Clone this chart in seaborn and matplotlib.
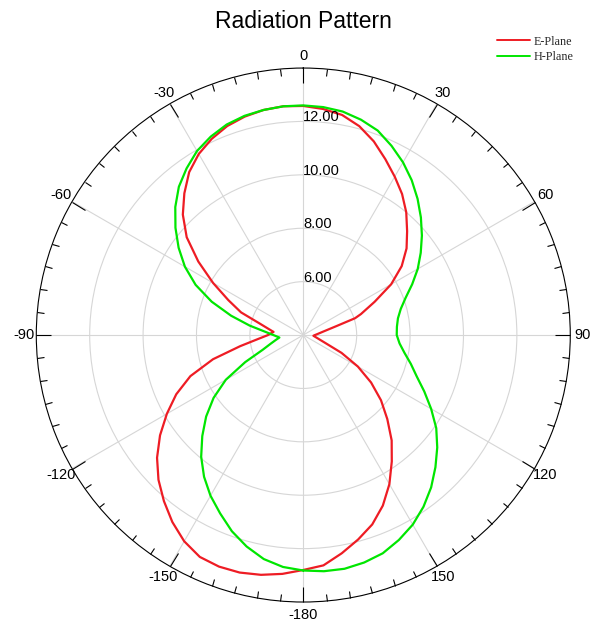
import numpy as np
import pandas as pd
import matplotlib
matplotlib.use("Agg")
import matplotlib.pyplot as plt
import seaborn as sns

# E-plane gain pattern (angle in degrees, gain)
e_angles = [-180, -175, -170, -165, -160, -155, -150, -145, -140, -135, -130, -125,
            -120, -115, -110, -105, -100, -95, -90, -84, -80, -75, -70, -65, -60,
            -55, -50, -45, -40, -35, -30, -25, -20, -15, -10, -5, 0, 5, 10, 15, 20,
            25, 30, 35, 40, 45, 50, 55, 60, 65, 70, 72, 75, 80, 85, 90, 94, 100, 105,
            110, 115, 120, 125, 130, 135, 140, 145, 150, 155, 160, 165, 170, 175, 180]
e_gain = [12.80, 12.98, 13.12, 13.21, 13.23, 13.17, 12.92, 12.55, 12.12, 11.67, 11.15, 10.55,
          9.90, 9.25, 8.50, 7.50, 6.40, 5.70, 5.32, 5.12, 5.32, 5.71, 6.48, 7.10, 7.90,
          8.80, 9.70, 10.38, 10.93, 11.45, 11.83, 12.11, 12.33, 12.47, 12.56, 12.60, 12.58, 12.50, 12.37, 12.10, 11.72,
          11.27, 10.85, 10.45, 10.00, 9.50, 9.05, 8.50, 7.80, 6.95, 6.30, 6.04, 5.27, 4.77, 4.56, 4.44, 4.38, 4.48, 4.62,
          4.89, 5.58, 6.36, 7.10, 7.80, 8.45, 9.15, 9.78, 10.45, 11.05, 11.55, 11.93, 12.30, 12.66, 12.80]

# H-plane gain pattern (angle in degrees, gain)
h_angles = [-180, -175, -170, -165, -160, -155, -150, -145, -140, -135, -130, -125,
            -120, -115, -110, -105, -100, -96, -90, -85, -80, -75, -70, -65, -60,
            -55, -50, -45, -40, -35, -30, -25, -20, -15, -10, -5, 0, 5, 10, 15, 20,
            25, 30, 35, 40, 45, 50, 55, 60, 65, 70, 75, 80, 85, 90, 95, 100, 105,
            110, 115, 120, 125, 130, 135, 140, 145, 150, 155, 160, 165, 170, 175, 180]
h_gain = [12.82, 12.72, 12.52, 12.20, 11.82, 11.37, 10.95, 10.48, 9.95, 9.35, 8.75, 8.10,
          7.35, 6.40, 5.62, 5.27, 5.04, 4.90, 5.12, 5.44, 6.04, 6.80, 7.65, 8.45, 9.12,
          9.70, 10.25, 10.78, 11.25, 11.62, 11.96, 12.20, 12.39, 12.50, 12.56, 12.60, 12.60, 12.57, 12.50, 12.35, 12.15,
          11.82, 11.47, 11.08, 10.66, 10.23, 9.80, 9.37, 8.95, 8.50, 8.08, 7.78, 7.60, 7.52, 7.50, 7.62, 7.85, 8.17,
          8.52, 9.00, 9.53, 10.08, 10.55, 11.00, 11.45, 11.85, 12.20, 12.47, 12.70, 12.82, 12.89, 12.88, 12.82]

plane_names = ["E-Plane", "H-Plane"]
plane_colors = ["#ee1c24", "#00e600"]

theta_ticks = [0, 30, 60, 90, 120, 150, 180, 210, 240, 270, 300, 330]
theta_labels = ["0", "30", "60", "90", "120", "150", "-180", "-150", "-120", "-90", "-60", "-30"]
r_rings = [6, 8, 10, 12]
r_min, r_max = 4, 14

df = pd.concat([
    pd.DataFrame({"theta": np.radians(e_angles), "gain": e_gain, "plane": plane_names[0]}),
    pd.DataFrame({"theta": np.radians(h_angles), "gain": h_gain, "plane": plane_names[1]}),
], ignore_index=True)

sns.set_theme(style="white")
plt.rcParams["font.family"] = ["Liberation Sans", "DejaVu Sans"]

fig = plt.figure(figsize=(5.92, 6.26), dpi=100)
ax = fig.add_axes([0.0613, 0.0383, 0.902, 0.853], projection="polar")
ax.set_theta_zero_location("N")
ax.set_theta_direction(-1)

sns.lineplot(data=df, x="theta", y="gain", hue="plane", hue_order=plane_names,
             palette=plane_colors, sort=False, estimator=None, linewidth=1.6,
             legend=False, ax=ax)
ax.set_xlabel("")
ax.set_ylabel("")

ax.set_rlim(r_min, r_max)
ax.set_rticks(r_rings)
ax.set_yticklabels([])
for v in r_rings:
    ax.text(0, v, f"{v:.2f}", ha="left", va="baseline", fontsize=10.5, color="black")

ax.set_xticks(np.radians(theta_ticks))
ax.set_xticklabels(theta_labels, fontsize=10.5, color="black")
ax.set_xticks(np.radians(np.arange(0, 360, 5)), minor=True)
ax.tick_params(axis="x", which="both", bottom=False, top=True, direction="in",
               color="black", width=0.8)
ax.tick_params(axis="x", which="major", length=11, pad=2)
ax.tick_params(axis="x", which="minor", length=5)
ax.grid(True, color="#d6d6d6", linewidth=0.8)
ax.spines["polar"].set_color("black")
ax.spines["polar"].set_linewidth(0.8)

fig.text(0.512, 1 - 22 / 626, "Radiation Pattern", ha="center", va="center",
         fontsize=16.5, color="black")

handles = [plt.Line2D([], [], color=c, lw=1.4) for c in plane_colors]
fig.legend(handles, plane_names, loc="upper right", bbox_to_anchor=(0.968, 0.943),
           frameon=False, borderaxespad=0, borderpad=0, handlelength=2.7,
           handletextpad=0.3, labelspacing=0.27,
           prop={"family": "Liberation Serif", "size": 8.7})

fig.savefig("out.png", dpi=100)
